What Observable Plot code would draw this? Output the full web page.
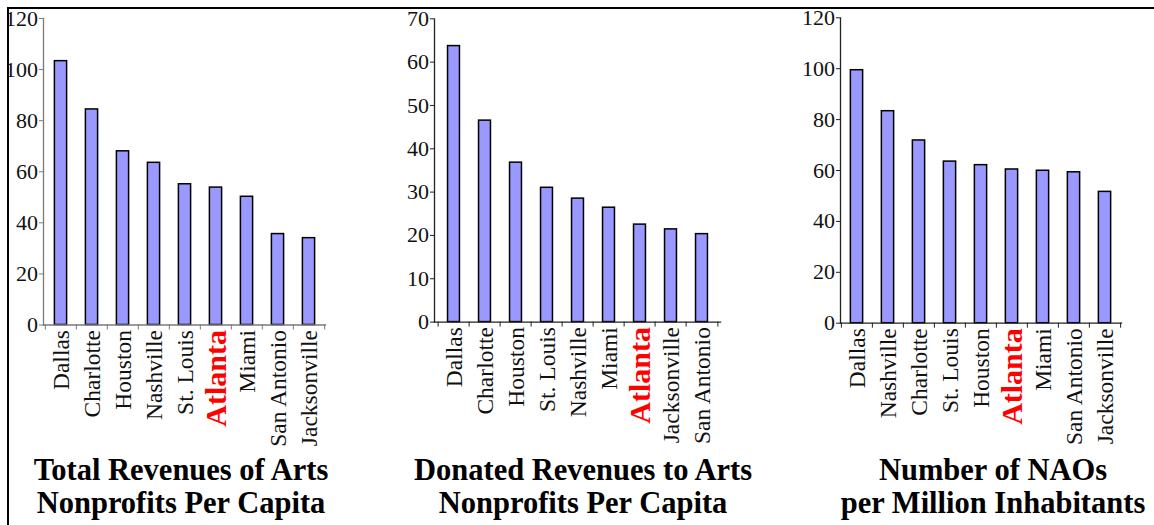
<!DOCTYPE html>
<html>
<head>
<meta charset="utf-8">
<script src="https://cdn.jsdelivr.net/npm/d3@7"></script>
<script src="https://cdn.jsdelivr.net/npm/@observablehq/plot@0.6"></script>
<style>
  html, body { margin: 0; padding: 0; background: #fff; }
  #root { position: relative; width: 1154px; height: 525px; overflow: hidden; background: #fff; }
  #border { position: absolute; left: 7px; top: 7px; right: -20px; bottom: -20px; border-left: 2px solid #000; border-top: 2px solid #000; }
  .panel { position: absolute; top: 0; }
  .title { position: absolute; transform: translateX(-50%); white-space: nowrap; text-align: center;
           font-family: "Liberation Serif", serif; font-weight: bold; font-size: 30.5px; line-height: 33px; color: #000; }
</style>
</head>
<body>
<div id="root"><div id="border"></div></div>
<script>
// ---- data ----
const HIGHLIGHT = "Atlanta";

const cities1 = ["Dallas", "Charlotte", "Houston", "Nashville", "St. Louis", "Atlanta", "Miami", "San Antonio", "Jacksonville"];
const values1 = [103.3, 84.4, 68.0, 63.5, 55.1, 53.8, 50.2, 35.6, 34.0];
const ticks1 = [0, 20, 40, 60, 80, 100, 120];
const title1 = ["Total Revenues of Arts", "Nonprofits Per Capita"];

const cities2 = ["Dallas", "Charlotte", "Houston", "St. Louis", "Nashville", "Miami", "Atlanta", "Jacksonville", "San Antonio"];
const values2 = [63.7, 46.5, 36.8, 31.0, 28.5, 26.4, 22.5, 21.4, 20.3];
const ticks2 = [0, 10, 20, 30, 40, 50, 60, 70];
const title2 = ["Donated Revenues to Arts", "Nonprofits Per Capita"];

const cities3 = ["Dallas", "Nashville", "Charlotte", "St. Louis", "Houston", "Atlanta", "Miami", "San Antonio", "Jacksonville"];
const values3 = [99.4, 83.3, 71.8, 63.5, 62.1, 60.4, 59.9, 59.3, 51.6];
const ticks3 = [0, 20, 40, 60, 80, 100, 120];
const title3 = ["Number of NAOs", "per Million Inhabitants"];

// ---- drawing ----
const FONT = "Liberation Serif";
const root = document.getElementById("root");

function panel(cats, vals, ticks, layout) {
  const {left, width, ml, mr, mt, mb, height, axisColor, titleX, titleY, title} = layout;
  const n = cats.length;
  const step = (width - ml - mr) / n;
  const data = cats.map((c, i) => ({city: c, value: vals[i]}));
  const chart = Plot.plot({
    width, height,
    marginLeft: ml, marginRight: mr, marginTop: mt, marginBottom: mb,
    x: {domain: cats, padding: 0, axis: null, label: null},
    y: {domain: [0, ticks[ticks.length - 1]], axis: null, label: null},
    style: {background: "transparent", overflow: "visible"},
    marks: [
      Plot.barY(data, {x: "city", y: "value", fill: "#9999FF", stroke: "#000", strokeWidth: 1.5,
                       insetLeft: step * 0.3, insetRight: step * 0.3}),
      Plot.frame({anchor: "left", stroke: axisColor, strokeWidth: 1.3}),
      Plot.frame({anchor: "bottom", stroke: axisColor, strokeWidth: 1.3}),
      Plot.axisY({ticks, label: null, tickSize: 4, tickPadding: 1.5, fontSize: 22, fontFamily: FONT,
                  stroke: axisColor, fill: "#111"}),
      Plot.axisX({ticks: cats, label: null, tickSize: 5, tickFormat: () => "", dx: -step / 2, stroke: axisColor}),
      Plot.axisX({ticks: [cats[n - 1]], label: null, tickSize: 5, tickFormat: () => "", dx: step / 2, stroke: axisColor}),
      Plot.text(cats.filter(c => c !== HIGHLIGHT), {x: d => d, text: d => d, frameAnchor: "bottom", dy: 5,
                rotate: -90, textAnchor: "end", lineAnchor: "middle", fontSize: 23.5, fontFamily: FONT, fill: "#111"}),
      Plot.text(cats.filter(c => c === HIGHLIGHT), {x: d => d, text: d => d, frameAnchor: "bottom", dy: 5,
                rotate: -90, textAnchor: "end", lineAnchor: "middle", fontSize: 30, fontWeight: "bold",
                fontFamily: FONT, fill: "#ff0000"})
    ]
  });
  const wrap = document.createElement("div");
  wrap.className = "panel";
  wrap.style.left = left + "px";
  wrap.appendChild(chart);
  root.appendChild(wrap);

  const t = document.createElement("div");
  t.className = "title";
  t.style.left = titleX + "px";
  t.style.top = titleY + "px";
  t.innerHTML = title.map(s => s.replace(/&/g, "&amp;")).join("<br>");
  root.appendChild(t);
}

panel(cities1, values1, ticks1, {left: 0, width: 380, ml: 43, mr: 55, mt: 18, mb: 135.5, height: 460,
  axisColor: "#7a7a7a", titleX: 181, titleY: 454, title: title1});
panel(cities2, values2, ticks2, {left: 380, width: 380, ml: 54, mr: 40, mt: 18.3, mb: 138.4, height: 460,
  axisColor: "#222", titleX: 583, titleY: 454, title: title2});
panel(cities3, values3, ticks3, {left: 770, width: 384, ml: 70, mr: 33, mt: 17.3, mb: 137.3, height: 460,
  axisColor: "#222", titleX: 993, titleY: 454, title: title3});
</script>
</body>
</html>
